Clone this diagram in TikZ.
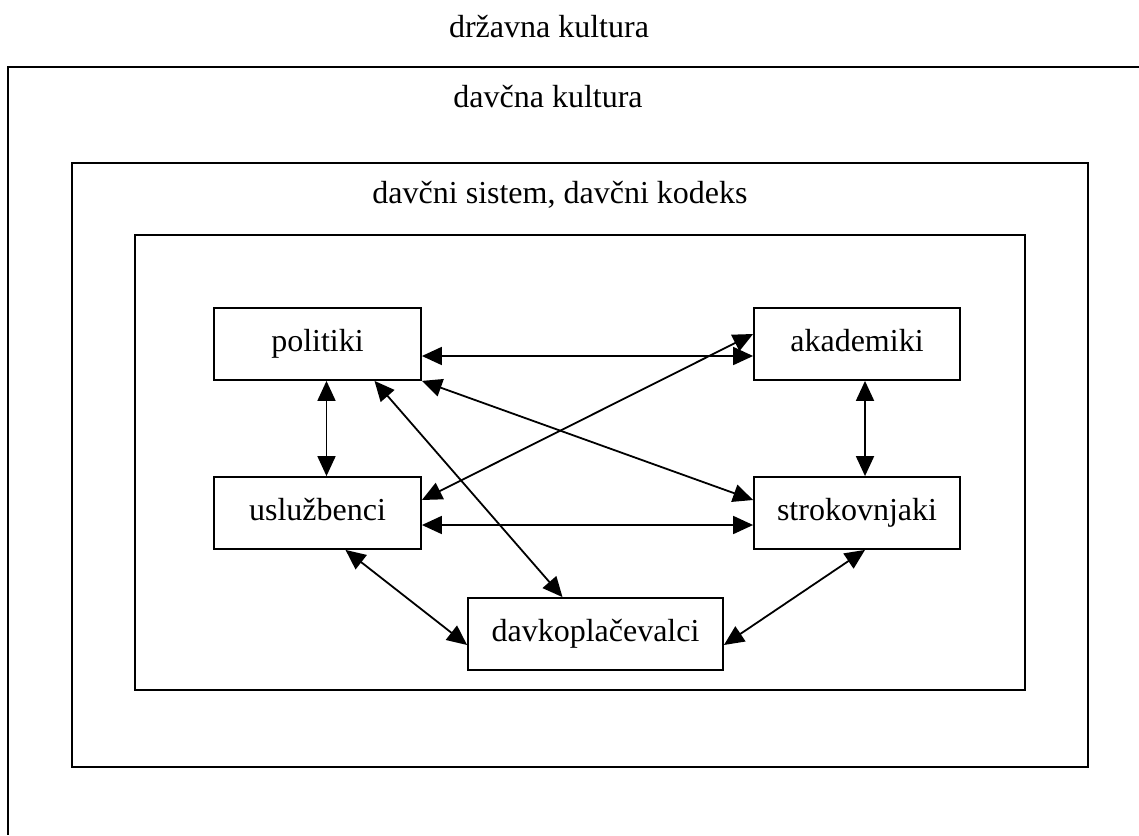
\documentclass[tikz,border=0pt]{standalone}
\usepackage{fontspec}
\setmainfont{Liberation Serif}
\usetikzlibrary{arrows.meta}
\usetikzlibrary{calc}

\tikzset{
  actor/.style={draw,line width=1.8pt,minimum height=72pt,inner sep=0pt,
    font=\fontsize{32}{38}\selectfont,text height=21pt,text depth=7pt},
  link/.style={line width=1.8pt,
    {Triangle[length=20pt,width=18pt]}-{Triangle[length=20pt,width=18pt]}},
  frame/.style={line width=1.8pt},
  title/.style={anchor=base,font=\fontsize{32}{38}\selectfont}
}

\begin{document}
\begin{tikzpicture}[x=1pt,y=-1pt]
 \useasboundingbox (0,0) rectangle (1139,835);

 % nested frames
 \draw[frame] (1139,67) -| (8,835);
 \draw[frame] (72,163) rectangle (1088,767);
 \draw[frame] (135,235) rectangle (1025,690);

 \node[title] (drz)  at (549,37)  {državna kultura};
 \node[title] (dav)  at (548,107) {davčna kultura};
 \node[title] (sis)  at (560,203) {davčni sistem, davčni kodeks};

 % actors
 \node[actor,minimum width=207pt] (pol) at (317.5,344) {politiki};
 \node[actor,minimum width=206pt] (aka) at (857,344)   {akademiki};
 \node[actor,minimum width=207pt] (usl) at (317.5,513) {uslužbenci};
 \node[actor,minimum width=206pt] (str) at (857,513)   {strokovnjaki};
 \node[actor,minimum width=255pt] (dkp) at (595.5,634) {davkoplačevalci};

 \draw[link] ([yshift=-12pt]pol.east) -- ([yshift=-12pt]aka.west);
 \draw[link] ([yshift=-12pt]usl.east) -- ([yshift=-12pt]str.west);
 \draw[link] ([xshift=9pt]pol.south) -- ([xshift=9pt]usl.north);
 \draw[link] ([xshift=8pt]aka.south) -- ([xshift=8pt]str.north);
 \draw[link] (pol.south east) -- ([yshift=13pt]str.west);
 \draw[link] ([yshift=13pt]usl.east) -- ([yshift=10pt]aka.west);
 \draw[link] ([xshift=57pt]pol.south) -- ([xshift=-33pt]dkp.north);
 \draw[link] ([xshift=28pt]usl.south) -- ([yshift=-11pt]dkp.west);
 \draw[link] ([xshift=8pt]str.south) -- ([yshift=-11pt]dkp.east);

\end{tikzpicture}
\end{document}
